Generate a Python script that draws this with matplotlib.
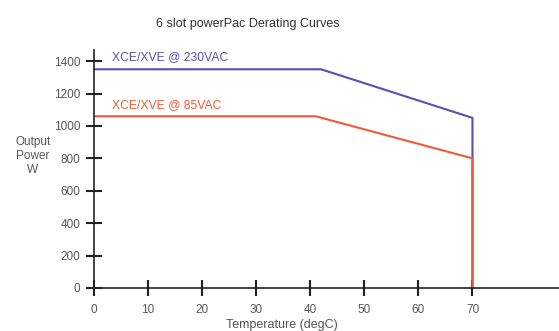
import matplotlib.pyplot as plt

plt.switch_backend('Agg')
plt.rcParams['font.family'] = ['Liberation Sans', 'DejaVu Sans']

# Derating curves (temperature degC, output power W)
temp_230 = [0, 42, 70, 70]
power_230 = [1350, 1350, 1050, 0]
temp_85 = [0, 41, 70, 70]
power_85 = [1060, 1060, 800, 0]

xticks = [0, 10, 20, 30, 40, 50, 60, 70]
yticks = [0, 200, 400, 600, 800, 1000, 1200, 1400]
ytick_labels = ['0', '200', '400', '600', '800', '1000', '1200', '1400']

blue = '#5a4fb0'
red = '#f05a38'
grey = '#5a5555'

fig = plt.figure(figsize=(5.59, 3.31), dpi=100)
ax = fig.add_axes([94 / 559, 1 - 288 / 331, 1 - 94 / 559, (288 - 50) / 331])

ax.plot(temp_230, power_230, color=blue, lw=1.5)
ax.plot(temp_85, power_85, color=red, lw=1.5)

ax.set_xlim(0, 86)
ax.set_ylim(0, 1469)

for s in ['top', 'right']:
    ax.spines[s].set_visible(False)
for s in ['left', 'bottom']:
    ax.spines[s].set_linewidth(1.2)
    ax.spines[s].set_color('#222222')

ax.set_xticks(xticks)
ax.set_yticks(yticks)
ax.set_yticklabels(ytick_labels)
ax.tick_params(axis='y', direction='inout', length=12, width=1.5, colors='#222222',
               labelcolor=grey, labelsize=8.5, pad=4)
ax.tick_params(axis='x', direction='inout', length=11, width=1.5, colors='#222222',
               labelcolor=grey, labelsize=8.5, pad=6)

ax.text(3.3, 1390, 'XCE/XVE @ 230VAC', color=blue, fontsize=8.7, va='bottom')
ax.text(3.3, 1095, 'XCE/XVE @ 85VAC', color=red, fontsize=8.7, va='bottom')

fig.text(33 / 559, 1 - 156 / 331, 'Output\nPower\nW', ha='center', va='center',
         fontsize=8.5, color=grey, linespacing=1.2)
fig.text(282 / 559, 1 - 325 / 331, 'Temperature (degC)', ha='center', va='center',
         fontsize=9, color=grey)
fig.text(248 / 559, 1 - 24 / 331, '6 slot powerPac Derating Curves', ha='center',
         va='center', fontsize=9, color='#333333')

plt.savefig('out.png', dpi=100)
